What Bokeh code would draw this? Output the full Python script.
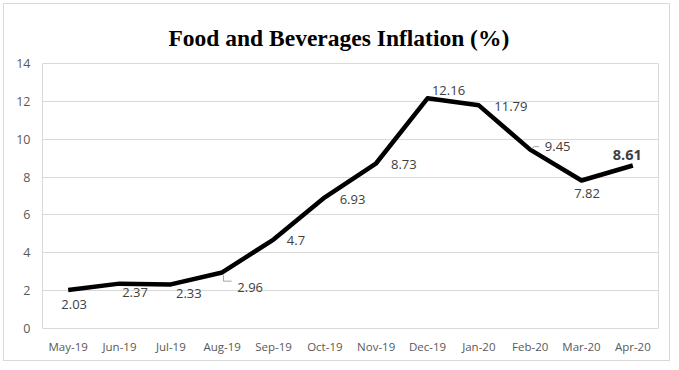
from bokeh.plotting import figure
from bokeh.models import ColumnDataSource, Range1d, FixedTicker
from bokeh.core.properties import value
from bokeh.embed import file_html
from bokeh.resources import INLINE

# ---- data ----
months = ["May-19", "Jun-19", "Jul-19", "Aug-19", "Sep-19", "Oct-19",
          "Nov-19", "Dec-19", "Jan-20", "Feb-20", "Mar-20", "Apr-20"]
inflation = [2.03, 2.37, 2.33, 2.96, 4.7, 6.93, 8.73, 12.16, 11.79, 9.45, 7.82, 8.61]
y_ticks = [0, 2, 4, 6, 8, 10, 12, 14]
title_text = "Food and Beverages Inflation (%)"

# ---- label placement (screen px offsets from each point) ----
label_dx = [6, 15.5, 18, 28, 22.5, 27.7, 27.7, 21, 32, 27.5, 5.5, -5.5]
label_dy = [14, 9, 9.5, 15, 1, 2, 1.7, -8, 1, -3, 13.5, -11]

FRAME_W, FRAME_H = 616, 265
X0, X1 = -0.5, len(months) - 0.5
Y0, Y1 = 0, 14

xs = list(range(len(months)))

p = figure(width=667, height=358, output_backend="svg", toolbar_location=None,
           x_range=Range1d(X0, X1), y_range=Range1d(Y0, Y1),
           min_border_left=38, min_border_right=13, min_border_top=59, min_border_bottom=34)
p.styles = {"border": "1px solid #d9d9d9", "margin-left": "3px", "margin-top": "3px"}
p.background_fill_color = "white"
p.border_fill_color = "white"
p.outline_line_color = "#d9d9d9"
p.outline_line_width = 1

# title
p.title.text = title_text
p.title.text_font = "Liberation Serif"
p.title.text_font_style = "bold"
p.title.text_font_size = "23.5px"
p.title.text_color = "black"
p.title.align = "left"
p.title.offset = 126
p.title.standoff = 26

# axes
p.xaxis.ticker = FixedTicker(ticks=xs)
p.xaxis.major_label_overrides = {i: m for i, m in enumerate(months)}
p.yaxis.ticker = FixedTicker(ticks=y_ticks)
for ax in (p.xaxis[0], p.yaxis[0]):
    ax.axis_line_color = None
    ax.major_tick_line_color = None
    ax.minor_tick_line_color = None
    ax.major_label_text_font = "Open Sans"
    ax.major_label_text_color = "#595959"
p.xaxis.major_label_text_font_size = "11.5px"
p.yaxis.major_label_text_font_size = "12.5px"
p.xaxis.major_label_standoff = 4
p.yaxis.major_label_standoff = 6

p.xgrid.grid_line_color = None
p.ygrid.grid_line_color = "#d9d9d9"
p.ygrid.grid_line_width = 1

src = ColumnDataSource(dict(x=xs, y=inflation))
p.line("x", "y", source=src, line_color="black", line_width=4.5, line_join="round")

# leader lines (from point, px offsets converted to data units)
px_x = (X1 - X0) / FRAME_W
px_y = (Y1 - Y0) / FRAME_H
ia, ifb = 3, 9
lead_xs = [[xs[ia] + 1.3 * px_x, xs[ia] + 1.3 * px_x, xs[ia] + 9.5 * px_x],
           [xs[ifb] + 1.5 * px_x, xs[ifb] + 4 * px_x, xs[ifb] + 9 * px_x]]
lead_ys = [[inflation[ia] - 2.7 * px_y, inflation[ia] - 8.7 * px_y, inflation[ia] - 8.7 * px_y],
           [inflation[ifb] + 1 * px_y, inflation[ifb] + 3 * px_y, inflation[ifb] + 3 * px_y]]
p.multi_line(lead_xs, lead_ys, line_color="#a6a6a6", line_width=1)

# data labels
n = len(months)
reg = ColumnDataSource(dict(x=xs[:n - 1], y=inflation[:n - 1],
                            lbl=[f"{v:g}" for v in inflation[:n - 1]],
                            dx=label_dx[:n - 1], dy=label_dy[:n - 1]))
p.text("x", "y", text="lbl", source=reg, x_offset="dx", y_offset="dy",
       text_align="center", text_baseline="middle",
       text_font=value("Open Sans"), text_font_size="13px", text_color="#404040")
last = ColumnDataSource(dict(x=xs[n - 1:], y=inflation[n - 1:],
                             lbl=[f"{v:g}" for v in inflation[n - 1:]],
                             dx=label_dx[n - 1:], dy=label_dy[n - 1:]))
p.text("x", "y", text="lbl", source=last, x_offset="dx", y_offset="dy",
       text_align="center", text_baseline="middle",
       text_font=value("Open Sans"), text_font_size="14.5px", text_font_style="bold",
       text_color="#404040")

open("out.html", "w").write(file_html(p, INLINE))
